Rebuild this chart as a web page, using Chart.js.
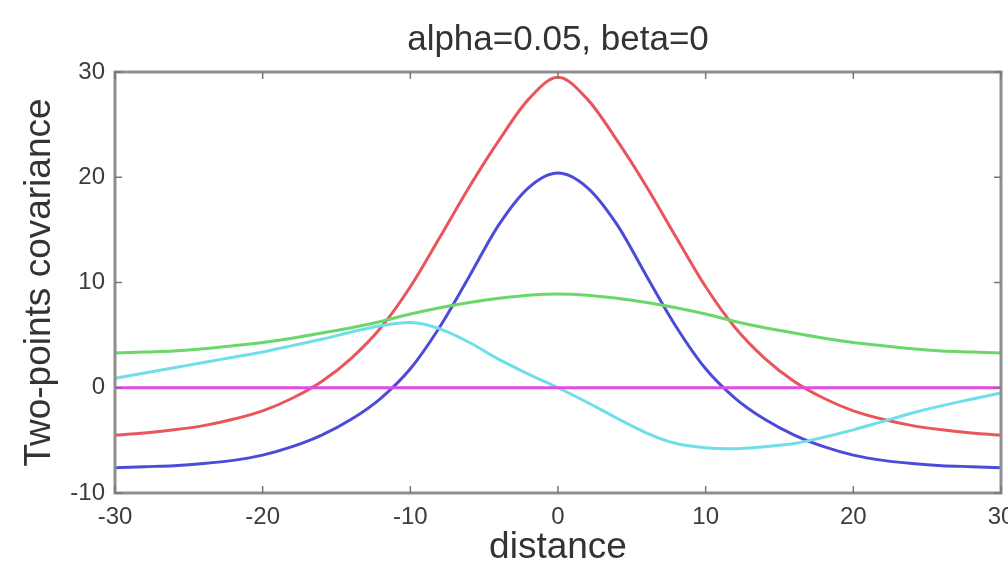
<!DOCTYPE html>
<html>
<head>
<meta charset="utf-8">
<title>alpha=0.05, beta=0</title>
<script src="https://cdn.jsdelivr.net/npm/chart.js@4.4.1/dist/chart.umd.min.js"></script>
<style>
  html, body { margin: 0; padding: 0; background: #fff; }
  #wrap { width: 1008px; height: 564px; position: relative; }
</style>
</head>
<body>
<div id="wrap"><canvas id="covChart"></canvas></div>
<script>
// distance samples, every 2 units
const distance = [-30, -28, -26, -24, -22, -20, -18, -16, -14, -12, -10, -8, -6, -4, -2, 0,
                  2, 4, 6, 8, 10, 12, 14, 16, 18, 20, 22, 24, 26, 28, 30];

// two-points covariance for each curve
const redCov = [-4.5, -4.3, -4.0, -3.6, -3.0, -2.2, -1.0, 0.6, 2.8, 5.7, 9.6, 14.3, 19.1, 23.5, 27.4, 29.5,
                27.4, 23.5, 19.1, 14.3, 9.6, 5.7, 2.8, 0.6, -1.0, -2.2, -3.0, -3.6, -4.0, -4.3, -4.5];
const blueCov = [-7.6, -7.5, -7.4, -7.2, -6.9, -6.4, -5.6, -4.5, -3.0, -1.0, 1.8, 5.8, 10.6, 15.5, 19.0, 20.4,
                 19.0, 15.5, 10.6, 5.8, 1.8, -1.0, -3.0, -4.5, -5.6, -6.4, -6.9, -7.2, -7.4, -7.5, -7.6];
const greenCov = [3.3, 3.4, 3.5, 3.7, 4.0, 4.3, 4.7, 5.2, 5.7, 6.3, 7.0, 7.6, 8.1, 8.5, 8.8, 8.9,
                  8.8, 8.5, 8.1, 7.6, 7.0, 6.3, 5.7, 5.2, 4.7, 4.3, 4.0, 3.7, 3.5, 3.4, 3.3];
const cyanCov = [0.9, 1.4, 1.9, 2.4, 2.9, 3.4, 4.0, 4.6, 5.3, 5.9, 6.2, 5.6, 4.3, 2.7, 1.3, 0.0,
                 -1.4, -2.9, -4.3, -5.3, -5.7, -5.8, -5.6, -5.3, -4.7, -4.0, -3.2, -2.4, -1.7, -1.1, -0.5];
const magentaCov = [0, 0, 0, 0, 0, 0, 0, 0, 0, 0, 0, 0, 0, 0, 0, 0,
                    0, 0, 0, 0, 0, 0, 0, 0, 0, 0, 0, 0, 0, 0, 0];

const xTicks = [-30, -20, -10, 0, 10, 20, 30];
const yTicks = [-10, 0, 10, 20, 30];

const FONT = "'Liberation Sans', Arial, Helvetica, sans-serif";

function toPoints(values) {
  return distance.map((d, i) => ({ x: d, y: values[i] }));
}

function curve(values, color) {
  return {
    data: toPoints(values),
    borderColor: color,
    borderWidth: 3,
    pointRadius: 0,
    fill: false,
    cubicInterpolationMode: 'monotone'
  };
}

// MATLAB-style box around the axes with inward ticks on every side
const axesBox = {
  id: 'axesBox',
  afterDatasetsDraw(chart) {
    const { ctx, chartArea: { left, top, right, bottom }, scales: { x, y } } = chart;
    ctx.save();
    ctx.strokeStyle = '#8e8e8e';
    ctx.lineWidth = 3;
    ctx.strokeRect(left, top, right - left, bottom - top);
    ctx.lineWidth = 1.5;
    ctx.strokeStyle = '#777';
    ctx.beginPath();
    xTicks.forEach(v => {
      const px = x.getPixelForValue(v);
      ctx.moveTo(px, bottom); ctx.lineTo(px, bottom - 7);
      ctx.moveTo(px, top); ctx.lineTo(px, top + 7);
    });
    yTicks.forEach(v => {
      const py = y.getPixelForValue(v);
      ctx.moveTo(left, py); ctx.lineTo(left + 7, py);
      ctx.moveTo(right, py); ctx.lineTo(right - 7, py);
    });
    ctx.stroke();
    ctx.restore();
  }
};

document.addEventListener('DOMContentLoaded', () => {
  const ctx = document.getElementById('covChart').getContext('2d');
  new Chart(ctx, {
    type: 'line',
    data: {
      datasets: [
        curve(magentaCov, 'rgb(225, 75, 225)'),
        curve(cyanCov, 'rgb(110, 222, 232)'),
        curve(greenCov, 'rgb(105, 215, 105)'),
        curve(blueCov, 'rgb(75, 75, 215)'),
        curve(redCov, 'rgb(232, 85, 90)')
      ]
    },
    options: {
      responsive: true,
      maintainAspectRatio: false,
      animation: false,
      layout: { padding: { left: 0, right: 7, top: 0, bottom: 0 } },
      plugins: {
        legend: { display: false },
        tooltip: { enabled: false }
      },
      scales: {
        x: {
          type: 'linear',
          min: -30,
          max: 30,
          grid: { display: false, drawTicks: false },
          border: { display: false },
          afterBuildTicks: scale => { scale.ticks = xTicks.map(v => ({ value: v })); },
          afterFit: scale => {
            scale.height = 71;
            scale.paddingLeft = 0;
            scale.paddingRight = 0;
          },
          ticks: {
            color: '#3c3c3c',
            padding: 10,
            maxRotation: 0,
            font: { family: FONT, size: 24 }
          },
          title: {
            display: true,
            text: 'distance',
            color: '#333',
            font: { family: FONT, size: 37, lineHeight: 1.0 },
            padding: { top: 0, bottom: -2 }
          }
        },
        // top axis only carries the plot title, centred over the axes
        xTop: {
          type: 'linear',
          position: 'top',
          min: -30,
          max: 30,
          grid: { display: false, drawTicks: false },
          border: { display: false },
          ticks: { display: false },
          afterFit: scale => {
            scale.height = 72;
            scale.paddingLeft = 0;
            scale.paddingRight = 0;
          },
          title: {
            display: true,
            text: 'alpha=0.05, beta=0',
            color: '#333',
            font: { family: FONT, size: 35, lineHeight: 1.2 },
            padding: { top: 19, bottom: 0 }
          }
        },
        y: {
          type: 'linear',
          min: -10,
          max: 30,
          grid: { display: false, drawTicks: false },
          border: { display: false },
          afterBuildTicks: scale => { scale.ticks = yTicks.map(v => ({ value: v })); },
          afterFit: scale => {
            scale.width = 115;
            scale.paddingTop = 0;
            scale.paddingBottom = 0;
          },
          ticks: {
            color: '#3c3c3c',
            padding: 10,
            font: { family: FONT, size: 24 }
          },
          title: {
            display: true,
            text: 'Two-points covariance',
            color: '#333',
            font: { family: FONT, size: 37, lineHeight: 1.0 },
            padding: { top: 21, bottom: 0 }
          }
        }
      }
    },
    plugins: [axesBox]
  });
});
</script>
</body>
</html>
